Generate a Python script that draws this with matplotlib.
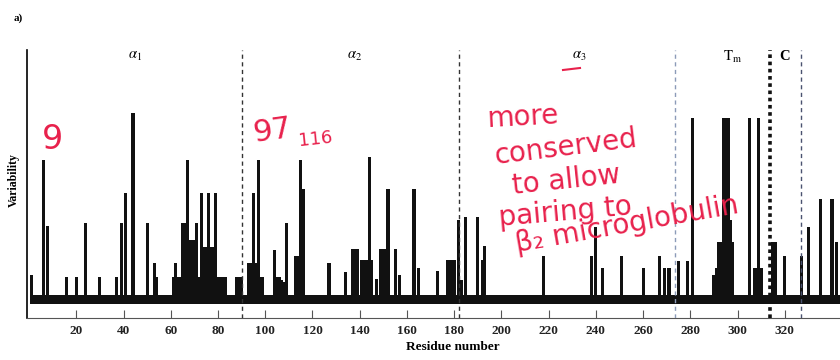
import matplotlib.pyplot as plt
import numpy as np
from matplotlib.lines import Line2D

# residuos 1..343, el nivel minimo forma la banda negra de la base
residuos = np.arange(1, 344)
nivel_base = 1.0

picos_residuo = [1, 6, 8, 16, 20, 24, 30, 37, 39, 41, 44, 50, 53, 54,
                 61, 62, 63, 64, 65, 66, 67, 68, 69, 70, 71, 72, 73, 74, 75, 76, 77, 78, 79,
                 80, 81, 82, 83, 88, 89, 90, 93, 94, 95, 96, 97, 98, 99,
                 104, 105, 106, 107, 108, 109, 113, 114, 115, 116, 127, 134, 137, 138, 139,
                 141, 142, 143, 144, 145, 147, 149, 150, 151, 152, 155, 157, 163, 165,
                 173, 177, 178, 179, 180, 182, 183, 185, 190, 192, 193,
                 218, 238, 240, 243, 251, 260, 267, 269, 271, 275, 279, 281,
                 290, 291, 292, 293, 294, 295, 296, 297, 298, 305, 307, 308, 309, 310,
                 315, 316, 320, 327, 330, 335, 340, 342]
picos_valor = [3.2, 16.0, 8.7, 3.0, 3.0, 9.0, 3.0, 3.0, 9.0, 12.3, 21.2, 9.0, 4.5, 3.0,
               3.0, 4.5, 3.0, 3.0, 9.0, 9.0, 16.0, 7.1, 7.1, 7.1, 9.0, 3.0, 12.3, 6.3, 6.3, 12.3, 6.3, 6.3, 12.3,
               3.0, 3.0, 3.0, 3.0, 3.0, 3.0, 3.0, 4.5, 4.5, 12.3, 4.5, 16.0, 3.0, 3.0,
               6.0, 3.0, 3.0, 2.7, 2.5, 9.0, 5.3, 5.3, 16.0, 12.8, 4.5, 3.6, 6.1, 6.1, 6.1,
               4.9, 4.9, 4.9, 16.3, 4.9, 2.8, 6.1, 6.1, 6.1, 12.8, 6.1, 3.2, 12.8, 4.0,
               3.7, 4.9, 4.9, 4.9, 4.9, 9.3, 2.7, 9.7, 9.7, 4.9, 6.4,
               5.3, 5.3, 8.6, 4.0, 5.3, 4.0, 5.3, 4.0, 4.0, 4.8, 4.8, 20.6,
               3.2, 4.0, 6.9, 6.9, 20.6, 20.6, 20.6, 9.3, 6.9, 20.6, 4.0, 4.0, 20.6, 4.0,
               6.9, 6.9, 5.3, 5.3, 8.6, 11.7, 11.7, 6.9]

# limites de dominios
limites = [90, 182, 273.5, 313.8, 326.7]
limites_color = ['#333333', '#333333', '#8c9bb8', '#111111', '#4a5270']
dominios = [r'$\alpha_1$', r'$\alpha_2$', r'$\alpha_3$', r'$\mathrm{T_m}$', 'C']
dominios_x = [45, 138, 233, 298, 320]

ticks_x = list(range(20, 321, 20))

variabilidad = np.full(len(residuos), nivel_base)
variabilidad[np.array(picos_residuo) - 1] = picos_valor

plt.rcParams['mathtext.fontset'] = 'stix'

fig = plt.figure(figsize=(8.4, 3.6), dpi=100)
ax = fig.add_axes([26.7 / 840, 42 / 360, 813.3 / 840, 268 / 360])

ax.bar(residuos, variabilidad, width=1.3, color='#111111', edgecolor='none', zorder=2)

for x, c in zip(limites, limites_color):
    if x == 313.8:
        ax.axvline(x, color=c, linestyle=(0, (1, 1)), linewidth=2.6, zorder=3)
    else:
        ax.axvline(x, color=c, linestyle=(0, (3, 2.5)), linewidth=1.0, zorder=3)

for x, nombre in zip(dominios_x, dominios):
    ax.text(x, 0.975, nombre, transform=ax.get_xaxis_transform(), ha='center', va='center',
            fontsize=10.5, family='Liberation Serif', fontweight='bold')

ax.set_xlim(-1.0, 343.4)
ax.set_ylim(-1.55, 28.2)
ax.set_xticks(ticks_x)
ax.set_xticklabels([str(t) for t in ticks_x], family='Liberation Serif', fontweight='bold',
                   fontsize=9.5, color='#222222')
ax.tick_params(axis='x', direction='in', length=6, width=0.8, color='#555555', pad=5)
ax.set_yticks([])
ax.spines['top'].set_visible(False)
ax.spines['right'].set_visible(False)
ax.spines['left'].set_linewidth(1.2)
ax.spines['bottom'].set_color('#555555')
ax.spines['bottom'].set_linewidth(0.8)

ax.set_xlabel('Residue number', family='Liberation Serif', fontweight='bold', fontsize=9.5)
ax.xaxis.set_label_coords((453 - 26.7) / 813.3, -0.085)
ax.set_ylabel('Variability', family='Liberation Serif', fontweight='bold', fontsize=8.5)
ax.yaxis.set_label_coords(-0.008, (318 - 180) / 268)

fig.text(18 / 840, 1 - 18 / 360, 'a)', family='Liberation Serif', fontweight='bold',
         fontsize=8, ha='center', va='center')

# anotaciones a mano en rojo
rojo = '#e8214c'
notas = [('9', 52, 140, 24, 0), ('97', 272, 131, 22, 8), ('116', 315, 139, 13, 6),
         ('more', 523, 117, 20, 3), ('conserved', 566, 147, 20, 7),
         ('to allow', 566, 180, 20, 6), ('pairing to', 565, 212, 20, 5),
         ('β₂ microglobulin', 627, 225, 20, 10)]
for txt, x, y, fs, rot in notas:
    fig.text(x / 840, 1 - y / 360, txt, color=rojo, fontsize=fs, rotation=rot,
             ha='center', va='center', rotation_mode='anchor')
fig.add_artist(Line2D([563 / 840, 580 / 840], [1 - 70 / 360, 1 - 68 / 360],
                      color=rojo, linewidth=1.5, transform=fig.transFigure))

fig.savefig('out.png', dpi=100)
